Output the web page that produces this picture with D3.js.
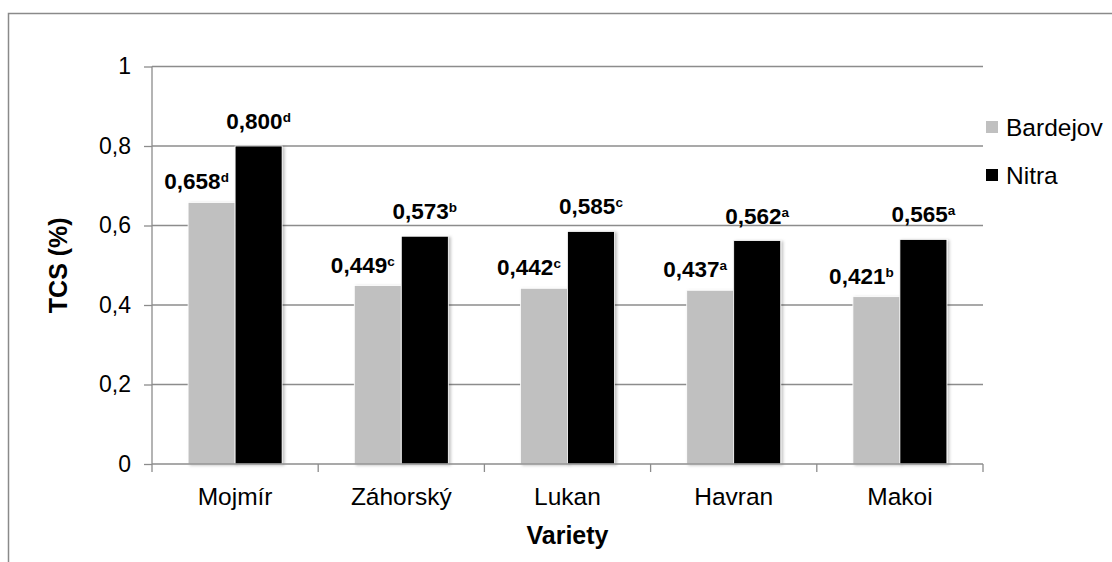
<!DOCTYPE html>
<html><head><meta charset="utf-8">
<script src="https://cdn.jsdelivr.net/npm/d3@7"></script>
<style>body{margin:0;background:#fff}svg{display:block}text{font-family:"Liberation Sans",Arial,sans-serif}</style>
</head><body>
<svg id="c" width="1112" height="562"></svg>
<script>
const categories = ["Mojmír","Záhorský","Lukan","Havran","Makoi"];
const seriesNames = ["Bardejov","Nitra"];
const bardejov = [0.658,0.449,0.442,0.437,0.421];
const nitra = [0.800,0.573,0.585,0.562,0.565];
const bardejovLetters = ["d","c","c","a","b"];
const nitraLetters = ["d","b","c","a","a"];
const yTicks = [0,0.2,0.4,0.6,0.8,1];
const yTickLabels = ["0","0,2","0,4","0,6","0,8","1"];
const colors = ["#c0c0c0","#000000"];

const svg = d3.select("#c");
const L=152,R=983,T=66.5,B=464;
// outer border
svg.append("path").attr("d","M8.5,600 V13.5 H1112").attr("fill","none").attr("stroke","#8a8a8a").attr("stroke-width",1.5);

const y = d3.scaleLinear().domain([0,1]).range([B,T]);
const x0 = d3.scaleBand().domain(categories).range([L,R]).padding(0);
const x1 = d3.scaleBand().domain(seriesNames).range([0,x0.bandwidth()]).paddingInner(0).paddingOuter(0.768);

// gridlines
svg.append("g").selectAll("line").data(yTicks.filter(d=>d>0)).join("line")
  .attr("x1",L).attr("x2",R).attr("y1",d=>y(d)).attr("y2",d=>y(d))
  .attr("stroke","#8c8c8c").attr("stroke-width",1.3);

// y axis
const ya = svg.append("g").attr("transform",`translate(${L},0)`)
  .call(d3.axisLeft(y).tickValues(yTicks).tickSize(8).tickPadding(13).tickFormat((d,i)=>yTickLabels[i]));
ya.select(".domain").attr("stroke","#8c8c8c").attr("stroke-width",1.3).attr("d",`M0,${T}V${B}`);
ya.selectAll(".tick line").attr("stroke","#8c8c8c").attr("stroke-width",1.3);
ya.selectAll(".tick text").attr("font-size",23).attr("fill","#000").attr("font-family","Liberation Sans, Arial, sans-serif");

// defs shadow
const defs = svg.append("defs");
const f = defs.append("filter").attr("id","sh").attr("x","-20%").attr("y","-5%").attr("width","150%").attr("height","120%");
f.append("feDropShadow").attr("dx",2).attr("dy",1).attr("stdDeviation",1.5).attr("flood-color","#000").attr("flood-opacity",0.25);

const data = categories.map((c,i)=>({c, vals:[{s:"Bardejov",v:bardejov[i],l:bardejovLetters[i]},{s:"Nitra",v:nitra[i],l:nitraLetters[i]}]}));

const g = svg.append("g").selectAll("g").data(data).join("g").attr("transform",d=>`translate(${x0(d.c)},0)`);
g.selectAll("rect").data(d=>d.vals).join("rect")
  .attr("x",d=>x1(d.s)).attr("width",x1.bandwidth())
  .attr("y",d=>y(d.v)).attr("height",d=>B-y(d.v))
  .attr("fill",(d,i)=>colors[i]).attr("stroke","#fff").attr("stroke-width",0.8)
  .attr("filter","url(#sh)");

// x axis
const xa = svg.append("g").attr("transform",`translate(0,${B})`);
xa.append("line").attr("x1",L).attr("x2",R).attr("stroke","#8c8c8c").attr("stroke-width",1.3);
const bounds = categories.map(c=>x0(c)).concat([R]);
xa.selectAll(".tk").data(bounds).join("line").attr("class","tk")
  .attr("x1",d=>d).attr("x2",d=>d).attr("y1",0).attr("y2",8).attr("stroke","#8c8c8c").attr("stroke-width",1.3);
xa.selectAll(".cl").data(categories).join("text").attr("class","cl")
  .attr("x",d=>x0(d)+x0.bandwidth()/2).attr("y",41).attr("text-anchor","middle")
  .attr("font-size",24.5).text(d=>d);

// value labels
g.selectAll("text.v").data(d=>d.vals).join("text").attr("class","v")
  .attr("x",(d,i)=> i===0 ? x1(d.s)+x1.bandwidth()/2-15 : x1(d.s)+x1.bandwidth()/2)
  .attr("y",(d,i)=>y(d.v)-(i===0?13:17))
  .attr("text-anchor","middle").attr("font-size",22.5).attr("font-weight","bold")
  .each(function(d){
    const t=d3.select(this);
    t.append("tspan").text(d3.format(".3f")(d.v).replace(".",","));
    t.append("tspan").attr("dy",-7).attr("font-size",13.5).text(d.l);
  });

// axis titles
svg.append("text").attr("transform",`translate(67,${(T+B)/2}) rotate(-90)`).attr("text-anchor","middle")
  .attr("font-size",25).attr("font-weight","bold").text("TCS (%)");
svg.append("text").attr("x",(L+R)/2).attr("y",544).attr("text-anchor","middle")
  .attr("font-size",25).attr("font-weight","bold").text("Variety");

// legend
const lg = svg.append("g").selectAll("g").data(seriesNames).join("g")
  .attr("transform",(d,i)=>`translate(986,${[127,175][i]})`);
lg.append("rect").attr("x",0).attr("y",-6).attr("width",12).attr("height",12).attr("fill",(d,i)=>colors[i]);
lg.append("text").attr("x",20).attr("y",9).attr("font-size",24.5).text(d=>d);
</script>
</body></html>
